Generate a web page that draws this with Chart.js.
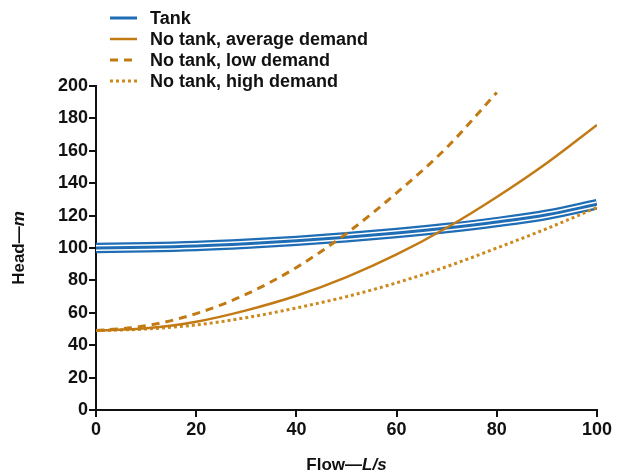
<!DOCTYPE html>
<html>
<head>
<meta charset="utf-8">
<script src="https://cdn.jsdelivr.net/npm/chart.js@4/dist/chart.umd.min.js"></script>
<style>
  body { margin:0; background:#fff; }
  #wrap { width:620px; height:473px; position:relative; }
</style>
</head>
<body>
<div id="wrap"><canvas id="headChart"></canvas></div>
<script>
// ── DATA ──────────────────────────────────────────────────
const flow      = [0, 10, 20, 30, 40, 50, 60, 70, 80, 90, 100];
const tankHead  = [100, 100.4, 101.2, 102.6, 104.4, 106.6, 109.2, 112.3, 116, 120.5, 127];
const avgHead   = [49, 50.5, 54.5, 61.5, 70.5, 82, 96, 112.5, 131.5, 152.5, 176];
const lowHead   = [49, 52, 59.5, 71.5, 88, 109, 134, 162, 196];
const highHead  = [49, 50, 52.5, 57, 63, 70, 78.5, 88.5, 100, 112, 125];
const xTicks    = [0, 20, 40, 60, 80, 100];
const yTicks    = [0, 20, 40, 60, 80, 100, 120, 140, 160, 180, 200];

const BLUE   = '#1f6db5';
const ORANGE = '#c27a14';
const FONT   = '"Liberation Sans", Arial, sans-serif';

const pts = arr => arr.map((y, i) => ({ x: flow[i], y }));

// ── legend + axis titles drawn by hand ───────────────────
const annotate = {
  id: 'annotate',
  afterDraw(chart) {
    const { ctx, chartArea } = chart;
    ctx.save();

    // legend, one entry per row
    let row = 0;
    chart.data.datasets.forEach(ds => {
      if (!ds.inLegend) return;
      const y = 18 + row * 21;
      ctx.beginPath();
      ctx.strokeStyle = ds.borderColor;
      ctx.lineWidth = ds.legendWidth || ds.borderWidth;
      ctx.setLineDash(ds.borderDash || []);
      ctx.moveTo(110, y);
      ctx.lineTo(137, y);
      ctx.stroke();
      ctx.setLineDash([]);
      ctx.fillStyle = '#111';
      ctx.font = 'bold 18px ' + FONT;
      ctx.textBaseline = 'middle';
      ctx.textAlign = 'left';
      ctx.fillText(ds.label, 150, y + 1);
      row++;
    });

    // mixed bold / italic titles
    const title = (a, b) => {
      ctx.font = 'bold 17px ' + FONT;
      const wa = ctx.measureText(a).width;
      ctx.font = 'italic bold 17px ' + FONT;
      const wb = ctx.measureText(b).width;
      const x0 = -(wa + wb) / 2;
      ctx.textBaseline = 'middle';
      ctx.textAlign = 'left';
      ctx.font = 'bold 17px ' + FONT;
      ctx.fillText(a, x0, 0);
      ctx.font = 'italic bold 17px ' + FONT;
      ctx.fillText(b, x0 + wa, 0);
    };
    ctx.fillStyle = '#111';

    ctx.save();
    ctx.translate((chartArea.left + chartArea.right) / 2, 465);
    title('Flow\u2014', 'L/s');
    ctx.restore();

    ctx.save();
    ctx.translate(19, (chartArea.top + chartArea.bottom) / 2);
    ctx.rotate(-Math.PI / 2);
    title('Head\u2014', 'm');
    ctx.restore();

    ctx.restore();
  }
};

const line = (extra) => Object.assign({
  pointRadius: 0,
  fill: false,
  cubicInterpolationMode: 'monotone',
  borderCapStyle: 'butt'
}, extra);

new Chart(document.getElementById('headChart'), {
  type: 'line',
  data: {
    datasets: [
      line({ label: 'Tank', data: pts(tankHead), borderColor: BLUE, borderWidth: 10.5, order: 3, inLegend: true, legendWidth: 3 }),
      line({ label: 'No tank, average demand', data: pts(avgHead), borderColor: ORANGE, borderWidth: 2.5, order: 0, inLegend: true }),
      line({ label: 'No tank, low demand', data: pts(lowHead), borderColor: ORANGE, borderWidth: 3, borderDash: [8, 6], order: 0, inLegend: true }),
      line({ label: 'No tank, high demand', data: pts(highHead), borderColor: '#cc8a1e', borderWidth: 3, borderDash: [3, 3], order: 0, inLegend: true }),
      line({ label: 'tank-gap', data: pts(tankHead), borderColor: '#ffffff', borderWidth: 6, order: 2 }),
      line({ label: 'tank-core', data: pts(tankHead), borderColor: BLUE, borderWidth: 3, order: 1 })
    ]
  },
  options: {
    responsive: true,
    maintainAspectRatio: false,
    animation: false,
    layout: { padding: { top: 86, right: 23, left: 0, bottom: 0 } },
    plugins: {
      legend: { display: false },
      tooltip: { enabled: false }
    },
    scales: {
      x: {
        type: 'linear',
        min: 0, max: 100,
        afterFit: s => { s.height = 63; },
        afterBuildTicks: s => { s.ticks = xTicks.map(v => ({ value: v })); },
        border: { color: '#111', width: 2 },
        grid: { drawOnChartArea: false, drawTicks: true, tickLength: 7, color: '#111', lineWidth: 2 },
        ticks: { color: '#111', padding: 2, maxRotation: 0, font: { family: FONT, size: 18, weight: 'bold' } }
      },
      y: {
        min: 0, max: 200,
        afterFit: s => { s.width = 96; },
        afterBuildTicks: s => { s.ticks = yTicks.map(v => ({ value: v })); },
        border: { color: '#111', width: 2 },
        grid: { drawOnChartArea: false, drawTicks: true, tickLength: 7, color: '#111', lineWidth: 2 },
        ticks: { color: '#111', padding: 1, font: { family: FONT, size: 18, weight: 'bold' } }
      }
    }
  },
  plugins: [annotate]
});
</script>
</body>
</html>
